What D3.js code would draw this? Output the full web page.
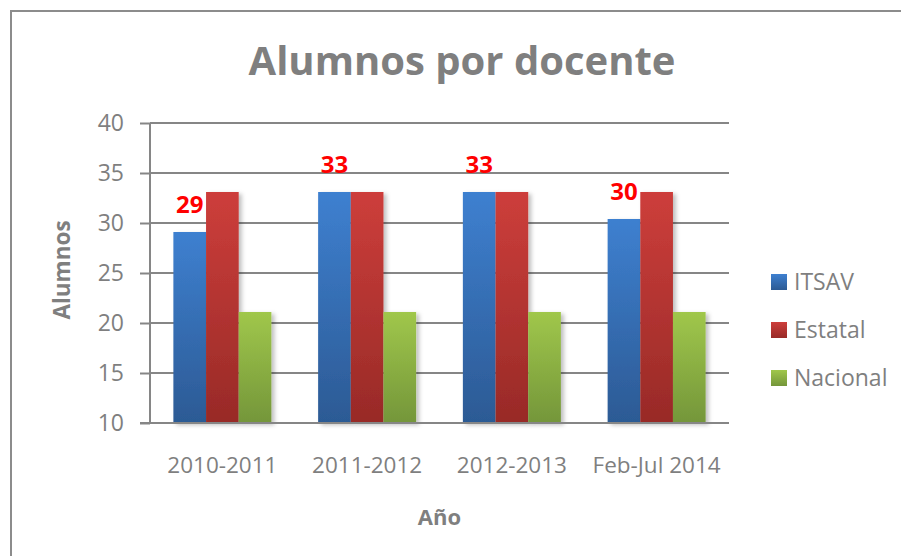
<!DOCTYPE html>
<html>
<head>
<meta charset="utf-8">
<script src="https://cdn.jsdelivr.net/npm/d3@7"></script>
<style>
  body { margin: 0; background: #fff; }
  text { font-family: "Open Sans", "Liberation Sans", sans-serif; }
</style>
</head>
<body>
<div id="main"></div>
<script>
var WIDTH = 901
var HEIGHT = 556

// data
var categories = ['2010-2011', '2011-2012', '2012-2013', 'Feb-Jul 2014']
var seriesNames = ['ITSAV', 'Estatal', 'Nacional']
var itsav = [29.1, 33.1, 33.1, 30.4]
var estatal = [33.1, 33.1, 33.1, 33.1]
var nacional = [21.1, 21.1, 21.1, 21.1]
var yTicks = [10, 15, 20, 25, 30, 35, 40]

var series = [itsav, estatal, nacional]
var colors = [
    { top: '#3e80d0', bottom: '#2c5a94' },
    { top: '#cd3e3b', bottom: '#982a27' },
    { top: '#a0c74b', bottom: '#74963a' }
]

var margin = { left: 150, right: 172, top: 123, bottom: 133 }

const svg = d3.select('#main').append('svg')
    .attr('width', WIDTH)
    .attr('height', HEIGHT)

var defs = svg.append('defs')
colors.forEach(function (c, i) {
    var lg = defs.append('linearGradient')
        .attr('id', 'grad' + i)
        .attr('x1', 0).attr('y1', 0).attr('x2', 0).attr('y2', 1)
    lg.append('stop').attr('offset', '0%').attr('stop-color', c.top)
    lg.append('stop').attr('offset', '100%').attr('stop-color', c.bottom)
})
var f = defs.append('filter').attr('id', 'shadow')
    .attr('x', '-20%').attr('y', '-10%').attr('width', '160%').attr('height', '130%')
f.append('feDropShadow')
    .attr('dx', 3).attr('dy', 2).attr('stdDeviation', 2)
    .attr('flood-color', '#000').attr('flood-opacity', 0.25)

// chart frame
svg.append('rect')
    .attr('x', 11).attr('y', 11)
    .attr('width', WIDTH + 20).attr('height', HEIGHT + 20)
    .attr('fill', 'none')
    .attr('stroke', '#8c8c8c')
    .attr('stroke-width', 2)

var x0 = d3.scaleBand()
    .domain(categories)
    .range([margin.left, WIDTH - margin.right])
    .paddingInner(0.323)
    .paddingOuter(0.1615)

var x1 = d3.scaleBand()
    .domain(d3.range(series.length))
    .range([0, x0.bandwidth()])

var y = d3.scaleLinear()
    .domain([10, 40])
    .range([HEIGHT - margin.bottom, margin.top])

// gridlines + ticks
var yAxis = svg.append('g')
    .attr('transform', 'translate(' + margin.left + ',0)')
    .call(d3.axisLeft(y).tickValues(yTicks).tickSize(10).tickPadding(16))
yAxis.select('.domain').remove()
yAxis.selectAll('.tick line').attr('stroke', '#868686').attr('stroke-width', 2)
yAxis.selectAll('.tick text')
    .attr('fill', '#7f7f7f')
    .style('font-size', '23px')

svg.append('g').selectAll('line')
    .data(yTicks)
    .enter()
    .append('line')
    .attr('x1', margin.left)
    .attr('x2', WIDTH - margin.right)
    .attr('y1', d => y(d))
    .attr('y2', d => y(d))
    .attr('stroke', '#868686')
    .attr('stroke-width', 2)

// bars
var groups = svg.append('g').selectAll('g')
    .data(categories)
    .enter()
    .append('g')
    .attr('transform', d => 'translate(' + x0(d) + ',0)')

groups.selectAll('rect')
    .data((d, i) => series.map((s, j) => ({ s: j, v: s[i] })))
    .enter()
    .append('rect')
    .attr('x', d => x1(d.s))
    .attr('width', x1.bandwidth())
    .attr('y', d => y(d.v))
    .attr('height', d => y(10) - y(d.v))
    .attr('fill', d => 'url(#grad' + d.s + ')')
    .attr('filter', 'url(#shadow)')

// y axis line drawn on top
svg.append('line')
    .attr('x1', margin.left).attr('x2', margin.left)
    .attr('y1', y(40)).attr('y2', y(10))
    .attr('stroke', '#868686')
    .attr('stroke-width', 2)
svg.append('line')
    .attr('x1', margin.left - 10).attr('x2', WIDTH - margin.right)
    .attr('y1', y(10)).attr('y2', y(10))
    .attr('stroke', '#868686')
    .attr('stroke-width', 2)

// ITSAV labels
svg.append('g').selectAll('text')
    .data(itsav)
    .enter()
    .append('text')
    .attr('x', (d, i) => x0(categories[i]) + x1(0) + x1.bandwidth() / 2)
    .attr('y', d => y(d) - 19)
    .attr('text-anchor', 'middle')
    .attr('fill', '#ff0000')
    .style('font-size', '24px')
    .style('font-weight', 'bold')
    .text(d => Math.round(d))

// x labels
svg.append('g').selectAll('text')
    .data(categories)
    .enter()
    .append('text')
    .attr('x', d => x0(d) + x0.bandwidth() / 2)
    .attr('y', 473)
    .attr('text-anchor', 'middle')
    .attr('fill', '#7f7f7f')
    .style('font-size', '22.5px')
    .text(d => d)

// titles
svg.append('text')
    .attr('x', 462).attr('y', 75)
    .attr('text-anchor', 'middle')
    .attr('fill', '#7f7f7f')
    .style('font-size', '40px')
    .style('font-weight', 'bold')
    .text('Alumnos por docente')

svg.append('text')
    .attr('x', (margin.left + WIDTH - margin.right) / 2).attr('y', 525)
    .attr('text-anchor', 'middle')
    .attr('fill', '#7f7f7f')
    .style('font-size', '22px')
    .style('font-weight', 'bold')
    .text('Año')

svg.append('text')
    .attr('transform', 'translate(70,270) rotate(-90)')
    .attr('text-anchor', 'middle')
    .attr('fill', '#7f7f7f')
    .style('font-size', '22.5px')
    .style('font-weight', 'bold')
    .text('Alumnos')

// legend
var legend = svg.append('g').selectAll('g')
    .data(seriesNames)
    .enter()
    .append('g')
    .attr('transform', (d, i) => 'translate(771,' + (282 + i * 48) + ')')
legend.append('rect')
    .attr('x', 0).attr('y', -8)
    .attr('width', 16).attr('height', 16)
    .attr('fill', (d, i) => 'url(#grad' + i + ')')
legend.append('text')
    .attr('x', 23).attr('y', 8)
    .attr('fill', '#7f7f7f')
    .style('font-size', '23px')
    .text(d => d)
</script>
</body>
</html>
